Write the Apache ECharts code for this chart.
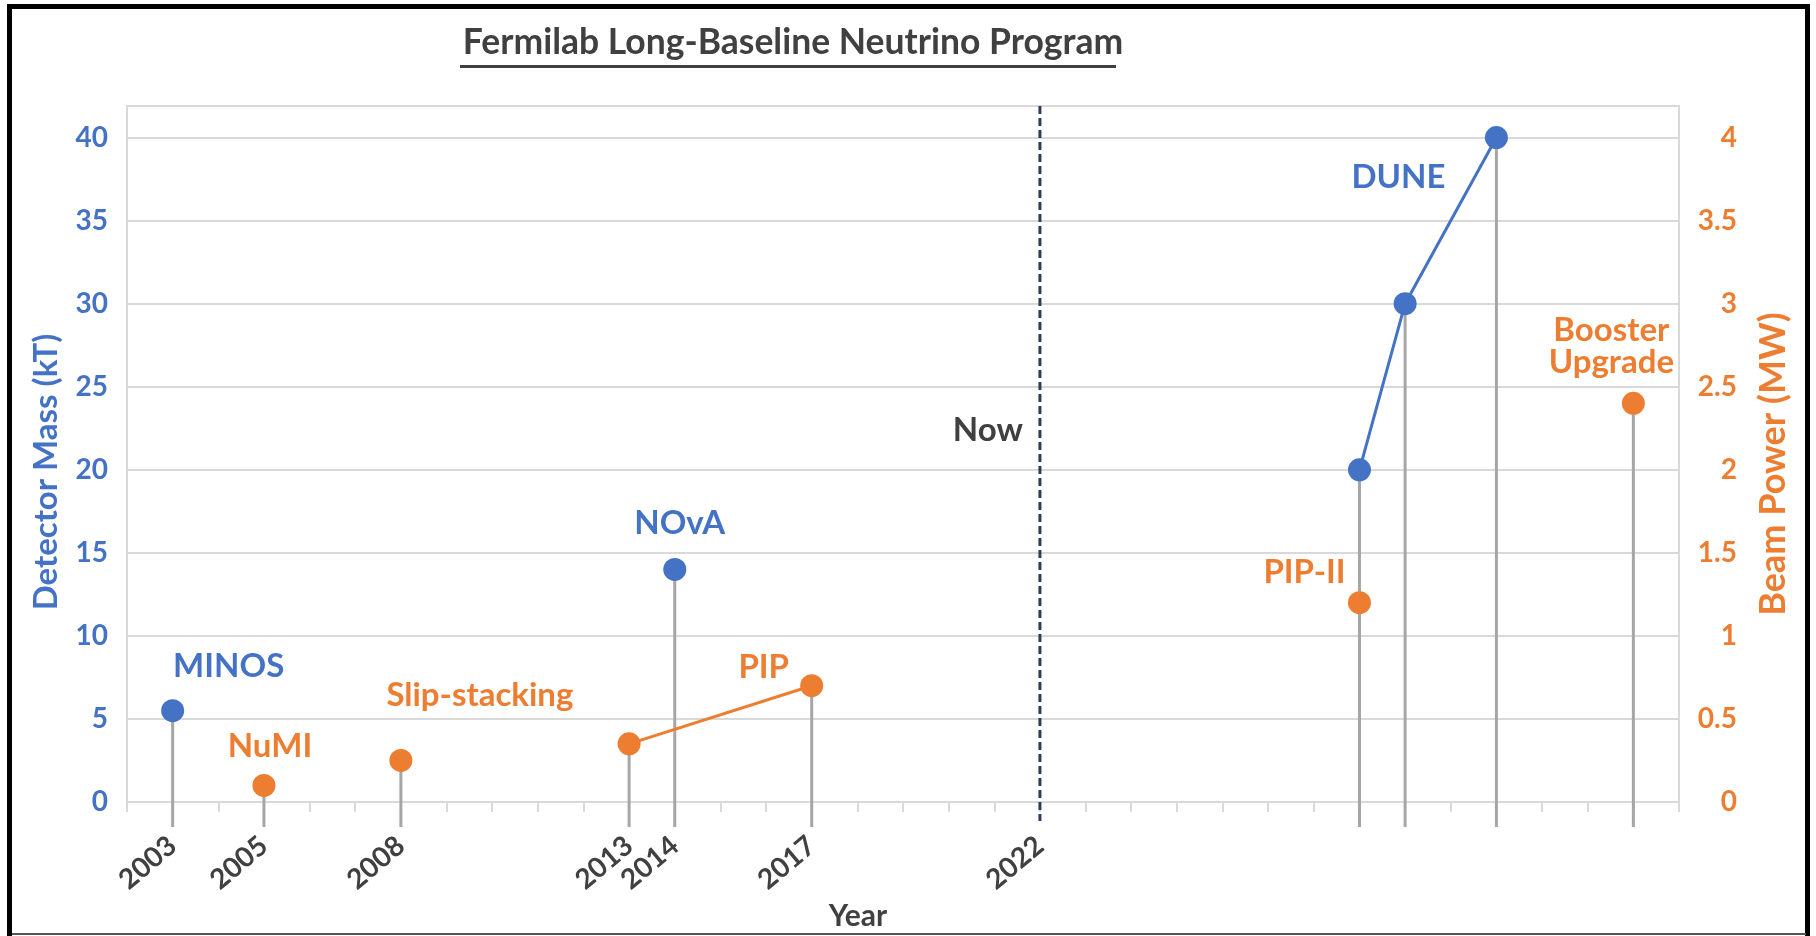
<!DOCTYPE html>
<html>
<head>
<meta charset="utf-8">
<script src="https://cdn.jsdelivr.net/npm/echarts@6/dist/echarts.min.js"></script>
<style>
  html, body { margin: 0; padding: 0; background: #fff; }
  #chart { width: 1816px; height: 936px; }
</style>
</head>
<body>
<div id="chart"></div>
<script>
// detector mass (kT), left axis
const massYears = [2003, 2014, 2029, 2030, 2032];
const massValues = [5.5, 14, 20, 30, 40];
const massNames = ['MINOS', 'NOvA', '', '', 'DUNE'];
const massLinked = [false, false, true, true, true];

// beam power (MW), right axis
const powerYears = [2005, 2008, 2013, 2017, 2029, 2035];
const powerValues = [0.1, 0.25, 0.35, 0.7, 1.2, 2.4];
const powerNames = ['NuMI', 'Slip-stacking', '', 'PIP', 'PIP-II', 'Booster\nUpgrade'];
const powerLinked = [false, false, true, true, false, false];

const yearLabels = [2003, 2005, 2008, 2013, 2014, 2017, 2022];
const nowYear = 2022;

const BLUE = '#4472c4';
const ORANGE = '#ed7d31';
const DARK = '#404040';
const GRID = '#d9d9d9';
const DROP = '#a6a6a6';
const FONT = 'Lato';

// where each point label sits relative to its marker
const labelOffsets = {
  MINOS: [56, -44],
  NOvA: [5, -46],
  DUNE: [-98, 40],
  NuMI: [6, -39],
  'Slip-stacking': [79, -65],
  PIP: [-48, -18],
  'PIP-II': [-55, -30],
  'Booster\nUpgrade': [-22, -57],
};
const nowLabelLevel = 22.4;

function points(xs, ys) {
  return xs.map((x, i) => [x, ys[i]]);
}

function labelled(xs, ys, names, color) {
  return xs.map((x, i) => {
    const name = names[i];
    if (!name) return { value: [x, ys[i]] };
    return {
      value: [x, ys[i]],
      label: {
        show: true,
        formatter: name,
        position: 'inside',
        offset: labelOffsets[name],
        color,
        fontFamily: FONT,
        fontWeight: 'bold',
        fontSize: 33,
        lineHeight: 32,
        textBorderWidth: 0,
        align: 'center',
      },
    };
  });
}

function dropLine(params, api) {
  const top = api.coord([api.value(0), api.value(1)]);
  const base = api.coord([api.value(0), 0]);
  return {
    type: 'line',
    shape: { x1: top[0], y1: top[1], x2: top[0], y2: base[1] + 25 },
    style: { stroke: DROP, lineWidth: 3 },
  };
}

function nowLine(params, api) {
  const base = api.coord([api.value(0), 0]);
  const label = api.coord([api.value(0), nowLabelLevel]);
  return {
    type: 'group',
    children: [
      {
        type: 'line',
        shape: { x1: base[0], y1: params.coordSys.y, x2: base[0], y2: base[1] + 19 },
        style: { stroke: '#2c3e5a', lineWidth: 3, lineDash: [8, 4] },
      },
      {
        type: 'text',
        x: base[0] - 17,
        y: label[1],
        style: {
          text: 'Now',
          fill: DARK,
          font: 'bold 33px ' + FONT,
          align: 'right',
          verticalAlign: 'middle',
        },
      },
    ],
  };
}

const chart = echarts.init(document.getElementById('chart'), null, { renderer: 'canvas' });

chart.setOption({
  animation: false,
  backgroundColor: '#fff',
  title: {
    text: 'Fermilab Long-Baseline Neutrino Program',
    left: 788,
    top: 20,
    textAlign: 'center',
    textStyle: { color: DARK, fontFamily: FONT, fontWeight: 'bold', fontSize: 35.5 },
  },
  graphic: [
    {
      type: 'line',
      shape: { x1: 460, y1: 66.5, x2: 1116, y2: 66.5 },
      style: { stroke: DARK, lineWidth: 3 },
    },
    {
      type: 'rect',
      shape: { x: 9.5, y: 6.5, width: 1798, height: 945 },
      style: { fill: 'none', stroke: '#000', lineWidth: 5 },
    },
    {
      type: 'line',
      shape: { x1: 12, y1: 934, x2: 1806, y2: 934 },
      style: { stroke: '#555', lineWidth: 2 },
    },
  ],
  grid: {
    left: 127,
    right: 137,
    top: 106,
    bottom: 134,
    show: true,
    borderColor: GRID,
    borderWidth: 2,
    containLabel: false,
    outerBoundsMode: 'none',
  },
  xAxis: {
    type: 'value',
    min: 2002,
    max: 2036,
    interval: 1,
    name: 'Year',
    nameLocation: 'middle',
    nameGap: 80,
    nameTextStyle: {
      color: DARK, fontFamily: FONT, fontWeight: 'bold', fontSize: 30,
      padding: [0, 90, 0, 0],
    },
    splitLine: { show: false },
    axisLine: { lineStyle: { color: GRID, width: 2 } },
    axisTick: { length: 10, lineStyle: { color: GRID, width: 2 } },
    axisLabel: {
      rotate: 40,
      margin: 40,
      color: DARK,
      fontFamily: FONT,
      fontWeight: 'bold',
      fontSize: 28,
      formatter: (v) => (yearLabels.includes(v) ? String(v) : ''),
    },
  },
  yAxis: [
    {
      type: 'value',
      min: 0,
      max: 41.9,
      interval: 5,
      name: 'Detector Mass (kT)',
      nameLocation: 'middle',
      nameRotate: 90,
      nameGap: 64,
      nameTextStyle: {
        color: BLUE, fontFamily: FONT, fontWeight: 'bold', fontSize: 33,
        padding: [0, 36, 0, 0],
      },
      axisLine: { show: false },
      axisTick: { show: false },
      splitLine: { lineStyle: { color: GRID, width: 2 } },
      axisLabel: {
        showMaxLabel: false,
        margin: 19,
        color: BLUE,
        fontFamily: FONT,
        fontWeight: 'bold',
        fontSize: 28,
      },
    },
    {
      type: 'value',
      min: 0,
      max: 4.19,
      interval: 0.5,
      name: 'Beam Power (MW)',
      nameLocation: 'middle',
      nameRotate: 90,
      nameGap: 76,
      nameTextStyle: {
        color: ORANGE, fontFamily: FONT, fontWeight: 'bold', fontSize: 36,
        padding: [0, 20, 0, 0],
      },
      axisLine: { show: false },
      axisTick: { show: false },
      splitLine: { show: false },
      axisLabel: {
        showMaxLabel: false,
        align: 'right',
        margin: 58,
        color: ORANGE,
        fontFamily: FONT,
        fontWeight: 'bold',
        fontSize: 28,
      },
    },
  ],
  series: [
    {
      type: 'custom',
      yAxisIndex: 0,
      renderItem: dropLine,
      data: points(massYears, massValues),
      z: 1,
      silent: true,
    },
    {
      type: 'custom',
      yAxisIndex: 1,
      renderItem: dropLine,
      data: points(powerYears, powerValues),
      z: 1,
      silent: true,
    },
    {
      type: 'custom',
      yAxisIndex: 0,
      renderItem: nowLine,
      data: [[nowYear, 0]],
      z: 1,
      silent: true,
    },
    {
      name: 'DUNE',
      type: 'line',
      yAxisIndex: 0,
      showSymbol: false,
      lineStyle: { color: BLUE, width: 3 },
      data: points(massYears, massValues).filter((p, i) => massLinked[i]),
      z: 2,
    },
    {
      name: 'PIP',
      type: 'line',
      yAxisIndex: 1,
      showSymbol: false,
      lineStyle: { color: ORANGE, width: 3 },
      data: points(powerYears, powerValues).filter((p, i) => powerLinked[i]),
      z: 2,
    },
    {
      name: 'Detector Mass',
      type: 'scatter',
      yAxisIndex: 0,
      symbolSize: 23,
      itemStyle: { color: BLUE, opacity: 1 },
      data: labelled(massYears, massValues, massNames, BLUE),
      z: 3,
    },
    {
      name: 'Beam Power',
      type: 'scatter',
      yAxisIndex: 1,
      symbolSize: 23,
      itemStyle: { color: ORANGE, opacity: 1 },
      data: labelled(powerYears, powerValues, powerNames, ORANGE),
      z: 3,
    },
  ],
});
</script>
</body>
</html>
